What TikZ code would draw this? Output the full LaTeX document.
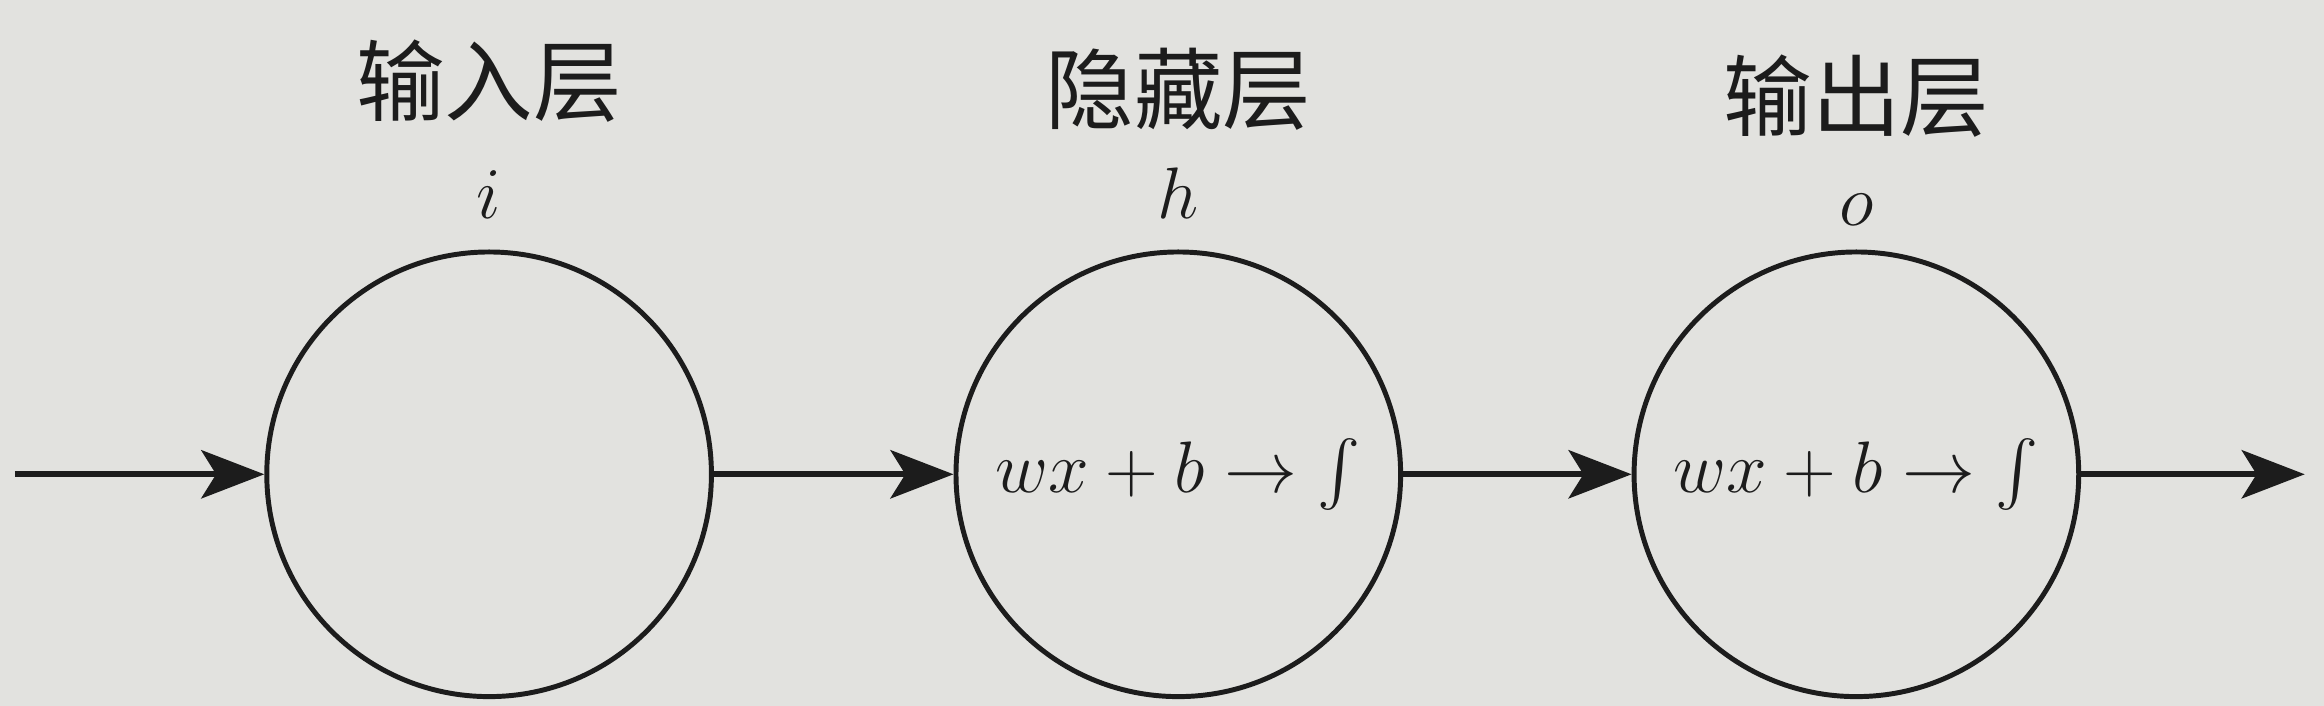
\RequirePackage{fix-cm}
\documentclass[tikz,border=0pt]{standalone}
\usepackage{exscale}
\usepackage{fontspec}
\newfontfamily\cjk{Noto Sans CJK SC}
\usepackage{xcolor}
\usepackage{tikz}
\usetikzlibrary{arrows,arrows.meta,shapes,positioning}

\begin{document}
\begin{tikzpicture}[node distance = 9.2cm]
    \definecolor{paper}{RGB}{226,226,223}
    \definecolor{ink}{RGB}{28,28,28}

    \fill[paper] (-6.6,-3.12) rectangle (24.76,6.4);  % 背景, 同时固定边界
    \fontsize{28pt}{34pt}\selectfont  % 字体大小
    \tikzstyle{neuron}=[circle,draw=ink,line width=1.9pt,minimum size=6cm,inner sep=0pt,text=ink]  % 神经元
    \tikzstyle{layer}=[font=\cjk\fontsize{34pt}{40pt}\selectfont,text=ink]  % 层的名称
    \tikzstyle{var}=[text=ink,text height=0.7em,text depth=0pt]  % 变量
    \tikzstyle{point}=[coordinate,on grid,]  % 像素点,用于连接转移线
    \tikzstyle{line}=[draw=ink,line width=2.4pt,-{Stealth[length=8.5mm,width=6.5mm,inset=2mm]}]

    % 定义节点
    \node[neuron](in){};
    \node[neuron,right of=in,node distance=9.3cm](hid){$wx+b\to\int$};
    \node[neuron,right of=hid,node distance=9.15cm](out){$wx+b\to\int$};
    \node[point,left of=in,node distance=64mm](start){};
    \node[point,right of=out,node distance=60.5mm](end){};
    % 层的标注
    \node[var,above of=in,node distance=38mm](i){$i$};
    \node[layer,above of=in,node distance=53mm](inname){输入层};
    \node[var,above of=hid,node distance=38mm](h){$h$};
    \node[layer,above of=hid,node distance=52mm](hidname){隐藏层};
    \node[var,above of=out,node distance=37mm](o){$o$};
    \node[layer,above of=out,node distance=51mm](outname){输出层};
    % 开始画线
    \draw[line](start)--(in);
    \draw[line](in)--(hid);
    \draw[line](hid)--(out);
    \draw[line](out)--(end);
\end{tikzpicture}
\end{document}
